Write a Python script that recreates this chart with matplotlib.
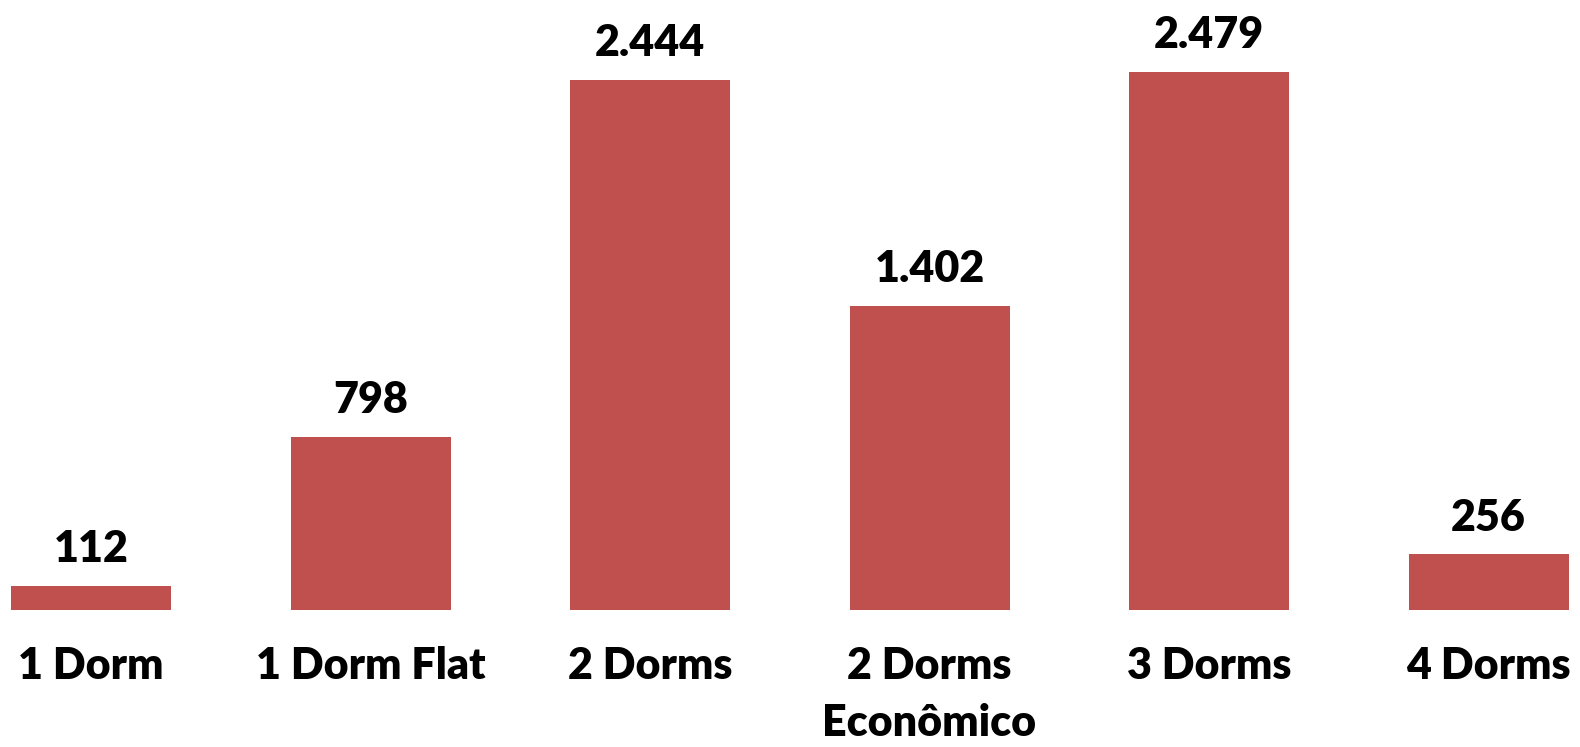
import matplotlib
matplotlib.use("Agg")
import matplotlib.pyplot as plt

categories = ["1 Dorm", "1 Dorm Flat", "2 Dorms", "2 Dorms\nEconômico", "3 Dorms", "4 Dorms"]
values = [112, 798, 2444, 1402, 2479, 256]
value_labels = ["112", "798", "2.444", "1.402", "2.479", "256"]

plt.rcParams['font.family'] = ['Lato', 'DejaVu Sans']

W, H = 1580, 747
fig = plt.figure(figsize=(W / 100, H / 100), dpi=100)
bottom_px = 610
ax = fig.add_axes([0, (H - bottom_px) / H, 1, bottom_px / H])

pitch = 279.5
c0 = 91
x = list(range(len(categories)))
ax.bar(x, values, width=160 / pitch, color="#C0504D", edgecolor="none")
ax.set_xlim((0 - c0) / pitch, (W - c0) / pitch)
scale = 538 / 2479
ax.set_ylim(0, bottom_px / scale)

for xi, v, lab in zip(x, values, value_labels):
    ax.annotate(lab, (xi, v), xytext=(0, 12), textcoords="offset points",
                ha="center", va="bottom", fontsize=31, fontweight="heavy", color="black")

ax.set_xticks(x)
ax.set_xticklabels(categories, fontsize=31, fontweight="heavy", linespacing=1.5)
ax.tick_params(axis="x", length=0, pad=26)
ax.set_yticks([])
for s in ax.spines.values():
    s.set_visible(False)

fig.savefig("out.png", dpi=100)
